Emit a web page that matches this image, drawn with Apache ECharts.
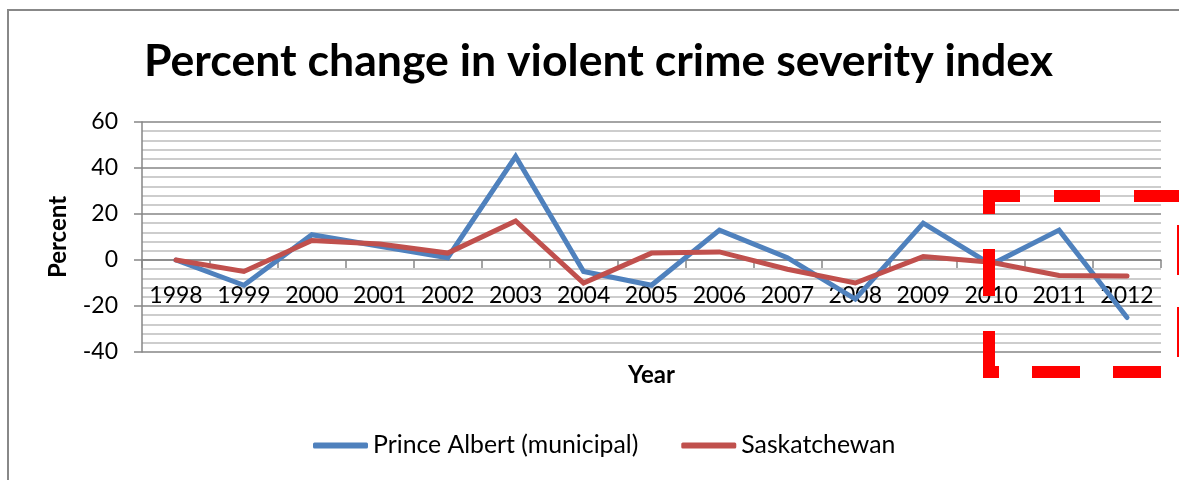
<!DOCTYPE html>
<html>
<head>
<meta charset="utf-8">
<script src="https://cdn.jsdelivr.net/npm/echarts@6/dist/echarts.min.js"></script>
<style>html,body{margin:0;padding:0;background:#fff;}#c{width:1179px;height:480px;}</style>
</head>
<body>
<div id="c"></div>
<script>
const years = ['1998','1999','2000','2001','2002','2003','2004','2005','2006','2007','2008','2009','2010','2011','2012'];
const princeAlbert = [0, -11, 11, 6, 1, 45, -5, -11, 13, 1, -17, 16, -2, 13, -25];
const saskatchewan = [0, -5, 8.5, 7, 3, 17, -10, 3, 3.5, -4, -10, 1.5, -1, -6.7, -7];
const yTicks = {min: -40, max: 60, interval: 20};

const FONT = 'Lato';
const GRID_TOP = 122, GRID_BOTTOM = 128, H = 480;
// put the category axis on the zero line: offset from grid bottom to y=0
const plotH = H - GRID_TOP - GRID_BOTTOM;
const zeroOffset = -plotH * (0 - yTicks.min) / (yTicks.max - yTicks.min);

const red = '#ff0000';
function dashLine(x1, y1, x2, y2, dash, offset) {
  return {
    type: 'line', z: 100, silent: true,
    shape: {x1: x1, y1: y1, x2: x2, y2: y2},
    style: {stroke: red, lineWidth: 12, lineDash: dash, lineDashOffset: offset || 0, lineCap: 'butt'}
  };
}

const chart = echarts.init(document.getElementById('c'), null, {renderer: 'canvas'});
chart.setOption({
  animation: false,
  backgroundColor: '#ffffff',
  title: {
    text: 'Percent change in violent crime severity index',
    left: 139,
    top: 34,
    textStyle: {fontFamily: FONT, fontWeight: 'bold', fontSize: 44.6, color: '#000'}
  },
  grid: {left: 142, right: 18, top: GRID_TOP, bottom: GRID_BOTTOM, containLabel: false},
  legend: {
    left: 313, top: 433, padding: 0,
    icon: 'roundRect', itemWidth: 55, itemHeight: 6, itemGap: 43,
    textStyle: {fontFamily: FONT, fontSize: 24.8, color: '#000'},
    data: ['Prince Albert (municipal)', 'Saskatchewan']
  },
  xAxis: {
    type: 'category',
    data: years,
    boundaryGap: true,
    offset: zeroOffset,
    name: 'Year',
    nameLocation: 'middle',
    nameGap: 103,
    nameTextStyle: {fontFamily: FONT, fontWeight: 'bold', fontSize: 24, color: '#000'},
    axisLine: {onZero: false, lineStyle: {color: '#868686', width: 1.5}},
    axisTick: {show: true, length: 8, alignWithLabel: false, lineStyle: {color: '#868686', width: 1.5}},
    axisLabel: {fontFamily: FONT, fontSize: 23, color: '#000', margin: 24, interval: 0},
    splitLine: {show: false}
  },
  yAxis: {
    type: 'value',
    min: yTicks.min, max: yTicks.max, interval: yTicks.interval,
    name: 'Percent',
    nameLocation: 'middle',
    nameGap: 72,
    nameRotate: 90,
    nameTextStyle: {fontFamily: FONT, fontWeight: 'bold', fontSize: 24, color: '#000'},
    axisLine: {show: true, lineStyle: {color: '#868686', width: 1.5}},
    axisTick: {show: true, length: 8, lineStyle: {color: '#868686', width: 1.5}},
    axisLabel: {fontFamily: FONT, fontSize: 23, color: '#000', margin: 24},
    splitLine: {show: true, lineStyle: {color: '#868686', width: 1.5}},
    minorTick: {show: false, splitNumber: 5},
    minorSplitLine: {show: true, lineStyle: {color: '#bdbdbd', width: 1.5}}
  },
  series: [
    {
      name: 'Prince Albert (municipal)', type: 'line', data: princeAlbert,
      symbol: 'none', lineStyle: {color: '#4F81BD', width: 5, cap: 'round', join: 'miter'},
      itemStyle: {color: '#4F81BD'}, z: 3
    },
    {
      name: 'Saskatchewan', type: 'line', data: saskatchewan,
      symbol: 'none', lineStyle: {color: '#C0504D', width: 5, cap: 'round', join: 'miter'},
      itemStyle: {color: '#C0504D'}, z: 4
    }
  ],
  graphic: [
    {
      type: 'rect', z: 0, silent: true,
      shape: {x: 8, y: 10, width: 1400, height: 800},
      style: {fill: null, stroke: '#888888', lineWidth: 2}
    },
    dashLine(983, 196, 1190, 196, [46, 34], 9),
    dashLine(1183, 225, 1183, 372, [50, 32]),
    dashLine(1161, 372, 983, 372, [48, 33]),
    dashLine(989, 378, 989, 190, [47, 35])
  ]
});
</script>
</body>
</html>
